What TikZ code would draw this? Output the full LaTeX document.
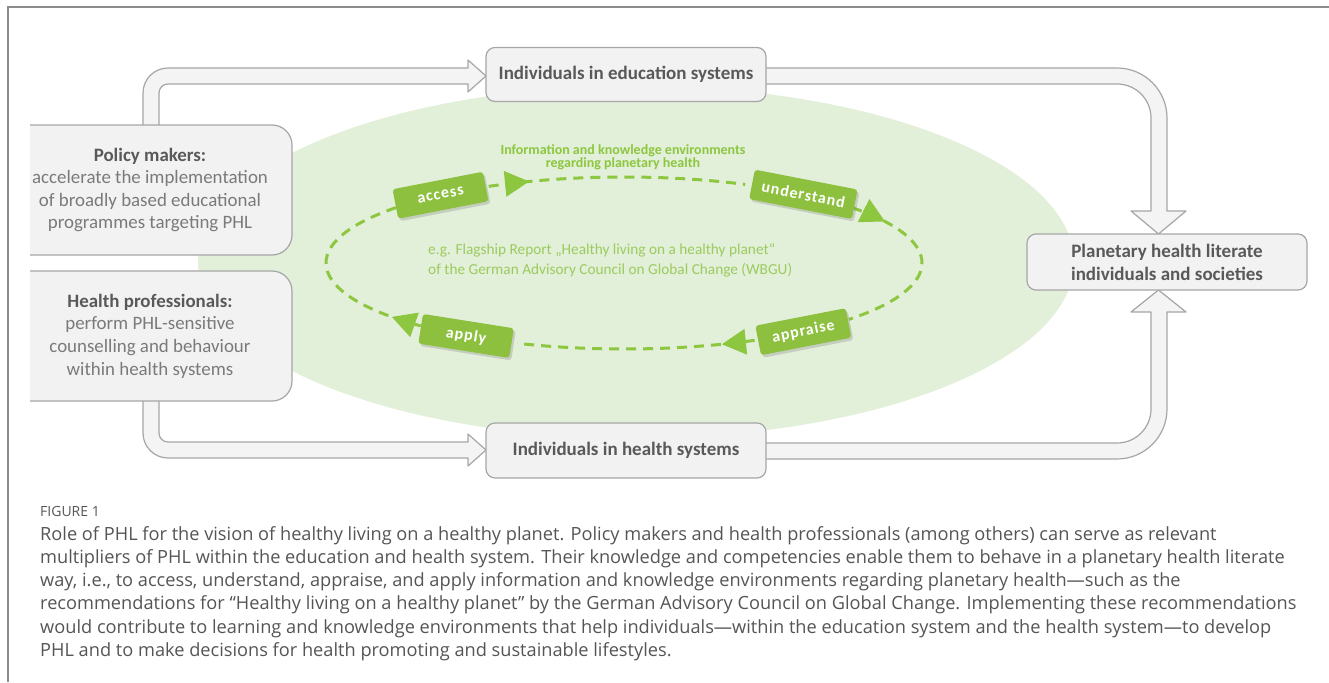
\documentclass[tikz,border=0pt]{standalone}
\usepackage{fontspec}
\setmainfont{Carlito}
\newfontfamily\capfont{Open Sans}
\usetikzlibrary{calc,arrows.meta,decorations.markings,shadows}
\definecolor{frameC}{HTML}{8C8C8C}
\definecolor{boxline}{HTML}{A6A6A6}
\definecolor{boxfill}{HTML}{F2F2F2}
\definecolor{arrowfill}{HTML}{F4F4F4}
\definecolor{textdark}{HTML}{595959}
\definecolor{textbody}{HTML}{7A7A7A}
\definecolor{ellfill}{HTML}{E2EFD9}
\definecolor{badge}{HTML}{8DC03F}
\definecolor{loopgreen}{HTML}{8DC63F}
\definecolor{lightgreen}{HTML}{9CCB5E}
\definecolor{capC}{HTML}{555555}
\tikzset{
  graybox/.style={draw=boxline, fill=boxfill, line width=1.2pt, rounded corners=9pt,
    align=center, text=textbody, inner sep=0pt},
  hollow/.style={draw=boxline, fill=arrowfill, line width=1.2pt, line join=round},
  greenbox/.style={fill=badge, text=white, rounded corners=3pt, minimum height=30pt,
    inner xsep=10pt, font=\bfseries\fontsize{16}{18}\selectfont\addfontfeature{LetterSpace=6},
    drop shadow={opacity=0.3, shadow xshift=2pt, shadow yshift=-2.5pt}},
  loopline/.style={draw=loopgreen, line width=3pt, dash pattern=on 10pt off 7pt},
  arrowat/.style={postaction={decorate, decoration={markings,
    mark=at position #1 with {\fill[loopgreen] (2pt,0pt) -- (-22pt,13pt) -- (-22pt,-13pt) -- cycle;}}}},
  captxt/.style={anchor=base west, inner sep=0pt, text=capC, font=\capfont\fontsize{18.2}{20}\selectfont}
}
\begin{document}
\begin{tikzpicture}[x=1pt,y=1pt]
\useasboundingbox (0,0) rectangle (1329,-682);
% frame
\draw[frameC, line width=1.6pt] (8,-682) -- (8,-7) -- (1329,-7);
% green ellipse
\fill[ellfill] (636,-262) ellipse[x radius=438pt, y radius=176pt];
% hollow arrows
\path[hollow] (143,-130) -- (143,-93) .. controls (143,-79.2) and (154.2,-68) .. (168,-68)
  -- (468,-68) -- (468,-60) -- (486,-76) -- (468,-92) -- (468,-84) -- (168,-84)
  .. controls (163,-84) and (159,-88) .. (159,-93) -- (159,-130) -- cycle;
\path[hollow] (761,-68) -- (1117,-68) .. controls (1144.6,-68) and (1167,-90.4) .. (1167,-118)
  -- (1167,-211) -- (1186,-211) -- (1158.5,-234) -- (1131,-211) -- (1151,-211) -- (1151,-118)
  .. controls (1151,-99.2) and (1135.8,-84) .. (1117,-84) -- (761,-84) -- cycle;
\path[hollow] (143,-396) -- (143,-433) .. controls (143,-446.8) and (154.2,-458) .. (168,-458)
  -- (468,-458) -- (468,-466) -- (486,-450) -- (468,-434) -- (468,-442) -- (168,-442)
  .. controls (163,-442) and (159,-438) .. (159,-433) -- (159,-396) -- cycle;
\path[hollow] (761,-443) -- (1117,-443) .. controls (1135.8,-443) and (1151,-427.8) .. (1151,-409)
  -- (1151,-312) -- (1131,-312) -- (1158.5,-290) -- (1186,-312) -- (1167,-312) -- (1167,-409)
  .. controls (1167,-436.6) and (1144.6,-459) .. (1117,-459) -- (761,-459) -- cycle;
% gray boxes
\begin{scope}
\clip (30,-100) rectangle (320,-420);
\node[graybox, minimum width=284pt, minimum height=130pt, rounded corners=20pt,
  font=\fontsize{18.9}{22.6}\selectfont] (policy) at (150,-190)
  {{\bfseries\color{textdark}Policy makers:}\\accelerate the implementation\\of broadly based educational\\programmes targeting PHL};
\node[graybox, minimum width=284pt, minimum height=130pt, rounded corners=20pt,
  font=\fontsize{18.9}{22.6}\selectfont] (healthpro) at (150,-336)
  {{\bfseries\color{textdark}Health professionals:}\\perform PHL-sensitive\\counselling and behaviour\\within health systems};
\end{scope}
\node[graybox, minimum width=280pt, minimum height=54pt, text=textdark,
  font=\bfseries\fontsize{19}{21}\selectfont] (edu) at (626,-74.5) {Individuals in education systems};
\node[graybox, minimum width=280pt, minimum height=55pt, text=textdark,
  font=\bfseries\fontsize{19}{21}\selectfont] (hsys) at (626,-450.5) {Individuals in health systems};
\node[graybox, minimum width=280pt, minimum height=56pt, text=textdark,
  font=\bfseries\fontsize{19}{23}\selectfont] (plan) at (1167,-262) {Planetary health literate\\individuals and societies};
% dashed loop
\coordinate (E) at (624,-263);
\coordinate (c1) at ($(E)+(117:298pt and 86pt)$);
\coordinate (c2) at ($(E)+(40:298pt and 86pt)$);
\coordinate (c3) at ($(E)+(-64:298pt and 86pt)$);
\coordinate (c4) at ($(E)+(-133:298pt and 86pt)$);
\draw[loopline, arrowat=0.15] (c1) arc[start angle=117, end angle=66, x radius=298pt, y radius=86pt];
\draw[loopline, arrowat=0.175] (c2) arc[start angle=40, end angle=-41, x radius=298pt, y radius=86pt];
\draw[loopline, arrowat=0.13] (c3) arc[start angle=-64, end angle=-111, x radius=298pt, y radius=86pt];
\draw[loopline, arrowat=0.13] (c4) arc[start angle=-133, end angle=-221, x radius=298pt, y radius=86pt];
% green badges
\node[greenbox, minimum width=92pt, rotate=11] (access) at ($(E)+(128:298pt and 86pt)$) {access};
\node[greenbox, minimum width=102pt, rotate=-11] (understand) at ($(E)+(53:298pt and 86pt)$) {understand};
\node[greenbox, minimum width=92pt, rotate=11] (appraise) at ($(E)+(-53:298pt and 86pt)$) {appraise};
\node[greenbox, minimum width=92pt, rotate=-9] (apply) at ($(E)+(-122:298pt and 86pt)$) {apply};
% texts in the ellipse
\node[align=center, text=loopgreen, inner sep=0pt, font=\bfseries\fontsize{14}{12}\selectfont] (info) at (623,-157)
  {Information and knowledge environments\\regarding planetary health};
\node[align=left, anchor=west, text=lightgreen, inner sep=0pt, font=\fontsize{15.3}{19.5}\selectfont] (wbgu) at (428,-260.5)
  {e.g. Flagship Report „Healthy living on a healthy planet“\\of the German Advisory Council on Global Change (WBGU)};
% caption
\node[anchor=base west, inner sep=0pt, text=capC, font=\capfont\fontsize{14}{16}\selectfont] (fig) at (40,-516) {FIGURE 1};
\node[captxt] (cap1) at (40,-540) {Role of PHL for the vision of healthy living on a healthy planet. Policy makers and health professionals (among others) can serve as relevant};
\node[captxt] (cap2) at (40,-563.3) {multipliers of PHL within the education and health system. Their knowledge and competencies enable them to behave in a planetary health literate};
\node[captxt] (cap3) at (40,-586.6) {way, i.e., to access, understand, appraise, and apply information and knowledge environments regarding planetary health—such as the};
\node[captxt] (cap4) at (40,-609.9) {recommendations for “Healthy living on a healthy planet” by the German Advisory Council on Global Change. Implementing these recommendations};
\node[captxt] (cap5) at (40,-633.2) {would contribute to learning and knowledge environments that help individuals—within the education system and the health system—to develop};
\node[captxt] (cap6) at (40,-656.5) {PHL and to make decisions for health promoting and sustainable lifestyles.};
\end{tikzpicture}
\end{document}
